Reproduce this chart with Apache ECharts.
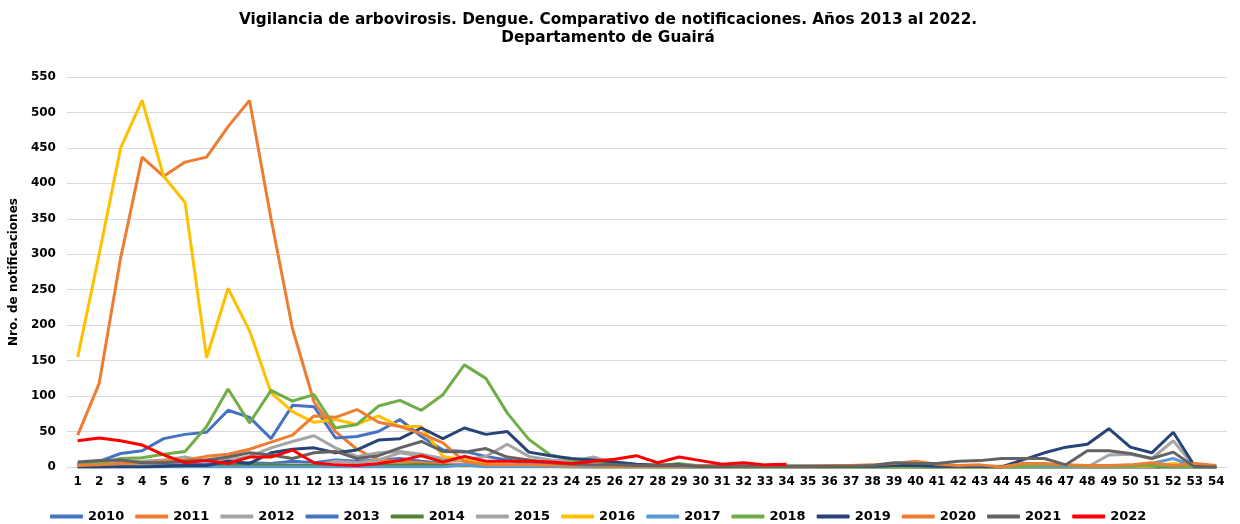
<!DOCTYPE html>
<html style="height: 100%">
<head>
<meta charset="utf-8">
<script src="https://cdn.jsdelivr.net/npm/echarts@6/dist/echarts.min.js"></script>
</head>
<body style="height: 100%; margin: 0; background: #fff">
<div id="container" style="width: 1240px; height: 524px;"></div>
<script type="text/javascript">
// semanas epidemiologicas
var semanas = [];
for (var i = 1; i <= 54; i++) semanas.push(String(i));

var anios = ['2010', '2011', '2012', '2013', '2014', '2015', '2016', '2017', '2018', '2019', '2020', '2021', '2022'];
var colores = ['#4472C4', '#ED7D31', '#A5A5A5', '#4472C4', '#548235', '#A5A5A5', '#FFC000', '#5B9BD5', '#70AD47', '#264478', '#ED7D31', '#636363', '#FF0000'];

var s2010 = [2,3,3,2,3,3,4,5,6,5,8,6,10,8,10,12,8,5,3,2,2,1,1,1,0,0,0,0,0,0,0,0,0,0,0,0,0,0,0,0,0,0,0,0,0,0,0,0,0,0,0,0,0,0];
var s2011 = [45,118,295,437,410,430,437,480,517,350,195,92,50,25,10,8,6,4,3,2,2,1,1,1,0,0,0,0,0,0,0,0,0,0,0,0,0,0,0,0,0,0,0,0,0,0,0,0,0,0,0,0,0,0];
var s2012 = [5,7,9,8,10,14,8,5,4,3,3,3,8,6,10,20,15,10,8,5,4,3,2,2,2,1,1,1,1,0,0,0,0,0,0,0,0,0,0,0,0,0,0,0,0,0,0,0,0,0,0,0,0,0];
var s2013 = [5,8,19,23,40,46,49,80,70,40,87,85,41,43,50,67,43,24,22,15,10,5,3,2,2,1,1,0,0,0,0,0,0,0,0,0,0,0,0,0,0,0,0,0,0,0,0,0,0,0,0,0,0,0];
var s2014 = [0,0,1,1,1,2,2,2,3,3,2,2,2,2,3,3,3,2,2,2,1,1,1,0,0,0,0,0,0,0,0,0,0,0,0,0,0,0,0,0,0,0,0,0,0,0,0,0,0,0,0,0,0,0];
var s2015 = [3,4,5,5,6,8,10,10,15,27,36,44,27,15,20,22,18,12,10,15,32,15,10,8,14,6,4,3,3,2,2,2,1,1,1,1,1,1,1,1,1,1,1,1,1,1,1,0,17,18,12,37,0,0];
var s2016 = [155,300,450,517,410,373,154,252,192,105,78,63,67,60,72,57,57,15,10,5,2,1,1,0,0,0,0,0,0,0,0,0,0,0,0,0,0,0,0,0,0,0,0,0,0,0,0,0,0,0,1,5,0,0];
var s2017 = [0,0,0,0,0,0,0,0,0,0,0,0,0,0,0,0,0,0,3,0,0,0,0,0,0,0,0,0,0,0,0,0,0,0,0,0,0,0,0,0,0,0,0,0,0,0,0,0,0,0,5,12,0,0];
var s2018 = [3,5,12,13,18,22,57,110,62,108,93,102,55,60,86,94,80,102,144,125,76,39,17,10,8,5,3,2,5,1,0,0,0,0,0,0,0,0,0,0,0,0,0,0,1,2,2,1,1,1,2,1,0,0];
var s2019 = [0,0,0,0,1,2,2,8,5,20,25,27,20,24,38,40,55,40,55,46,50,21,16,12,10,7,4,2,3,1,1,1,1,1,1,1,1,1,2,2,1,1,1,0,10,20,28,32,54,28,20,49,1,0];
var s2020 = [2,3,5,6,8,10,15,18,25,35,45,72,70,81,63,57,47,34,8,3,3,3,2,2,2,1,1,1,1,2,2,1,1,1,1,2,2,3,5,8,4,2,3,0,5,5,3,2,2,3,6,2,5,2];
var s2021 = [7,9,10,6,6,8,10,14,20,17,12,20,22,12,16,27,36,22,21,26,14,10,6,4,3,3,2,2,2,1,1,1,1,1,1,1,1,2,6,5,5,8,9,12,12,12,3,23,23,19,12,21,0,0];
var s2022 = [37,41,37,31,17,6,9,5,14,14,24,6,3,2,5,9,16,7,15,8,8,8,7,5,8,11,16,6,14,9,4,6,3,4,null,null,null,null,null,null,null,null,null,null,null,null,null,null,null,null,null,null,null,null];

var datos = [s2010, s2011, s2012, s2013, s2014, s2015, s2016, s2017, s2018, s2019, s2020, s2021, s2022];

var fuente = 'DejaVu Sans';
var dom = document.getElementById("container");
var myChart = echarts.init(dom);
var option = null;

var series = [];
for (var k = 0; k < anios.length; k++) {
	series.push({
		name : anios[k],
		type : 'line',
		data : datos[k],
		showSymbol : false,
		symbol : 'none',
		lineStyle : { width : 3, color : colores[k] },
		itemStyle : { color : colores[k] },
		connectNulls : false
	});
}

option = {
	animation : false,
	title : {
		text : 'Vigilancia de arbovirosis. Dengue. Comparativo de notificaciones. Años 2013 al 2022.\nDepartamento de Guairá',
		left : 603,
		textAlign : 'center',
		top : 6,
		textStyle : {
			fontFamily : fuente,
			fontSize : 15.3,
			fontWeight : 'bold',
			color : '#000',
			lineHeight : 18
		}
	},
	legend : {
		data : anios,
		left : 45,
		top : 505,
		icon : 'roundRect',
		itemWidth : 33,
		itemHeight : 4,
		itemGap : 11,
		textStyle : {
			fontFamily : fuente,
			fontSize : 13,
			fontWeight : 'bold',
			color : '#000'
		}
	},
	grid : {
		left : 66,
		right : 13,
		top : 77,
		bottom : 57
	},
	xAxis : {
		type : 'category',
		boundaryGap : true,
		data : semanas,
		axisLine : { lineStyle : { color : '#D9D9D9' } },
		axisTick : { show : false },
		axisLabel : {
			interval : 0,
			margin : 9,
			fontFamily : fuente,
			fontSize : 12,
			fontWeight : 'bold',
			color : '#000'
		}
	},
	yAxis : {
		type : 'value',
		min : 0,
		max : 550,
		interval : 50,
		name : 'Nro. de notificaciones',
		nameLocation : 'middle',
		nameGap : 43,
		nameTextStyle : {
			fontFamily : fuente,
			fontSize : 12,
			fontWeight : 'bold',
			color : '#000'
		},
		axisLine : { show : false },
		axisTick : { show : false },
		axisLabel : {
			margin : 11,
			fontFamily : fuente,
			fontSize : 12,
			fontWeight : 'bold',
			color : '#000'
		},
		splitLine : { lineStyle : { color : '#D9D9D9', width : 1 } }
	},
	series : series
};

if (option && typeof option === "object") {
	myChart.setOption(option, true);
}
</script>
</body>
</html>
